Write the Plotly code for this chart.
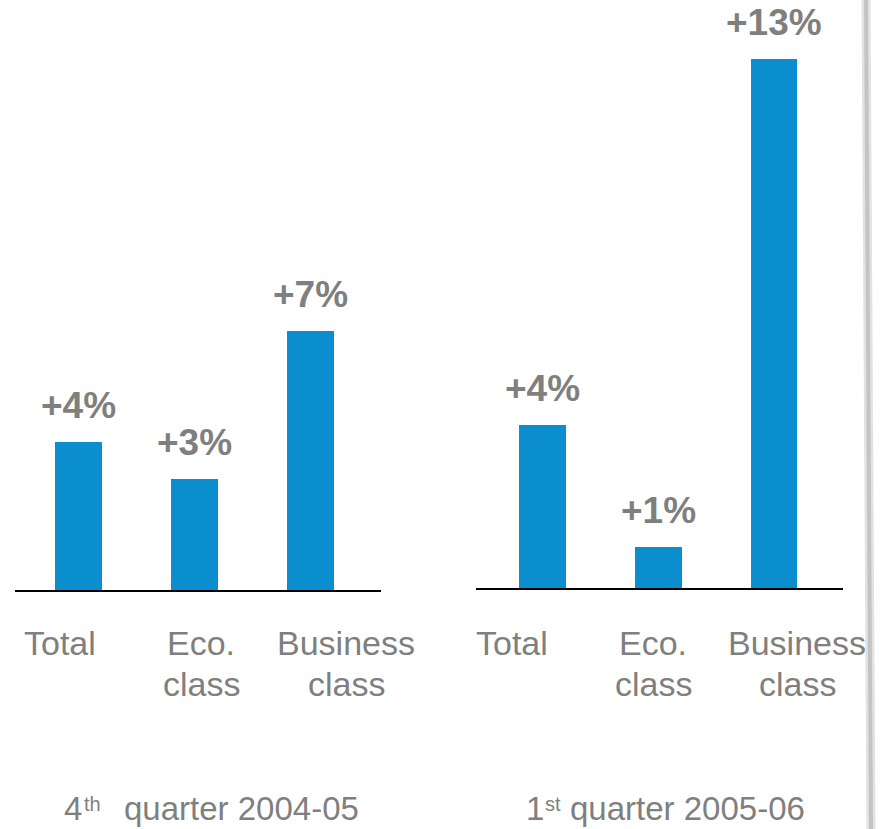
import plotly.graph_objects as go

# Passenger growth by class, two quarters
categories = ["Total", "Eco. class", "Business class"]
tick_lines = [["Total"], ["Eco.", "class"], ["Business", "class"]]
q4_values = [4, 3, 7]
q1_values = [4, 1, 13]
period_titles = [("4", "th", "quarter 2004-05"), ("1", "st", "quarter 2005-06")]

W, H = 882, 829
BAR = "#0A8ECD"
GREY = "#7F7F7F"
FONT = "Arial, Liberation Sans, sans-serif"


def px(x):
    return x / W


def py(y):
    return 1 - y / H


fig = go.Figure()
xs = list(range(len(categories)))

fig.add_trace(go.Bar(x=xs, y=q4_values, xaxis="x", yaxis="y",
                     marker=dict(color=BAR, line=dict(width=0)), width=0.405,
                     hoverinfo="skip", showlegend=False))
fig.add_trace(go.Bar(x=xs, y=q1_values, xaxis="x2", yaxis="y2",
                     marker=dict(color=BAR, line=dict(width=0)), width=0.405,
                     hoverinfo="skip", showlegend=False))

axis_common = dict(showgrid=False, zeroline=False, showticklabels=False, ticks="", fixedrange=True)

fig.update_layout(
    width=W, height=H,
    margin=dict(l=0, r=0, t=0, b=0),
    paper_bgcolor="white", plot_bgcolor="rgba(0,0,0,0)",
    font=dict(family=FONT, color=GREY),
    bargap=0,
    xaxis=dict(domain=[px(15), px(381)], range=[-0.547, 2.608],
               showline=True, linecolor="black", linewidth=2, anchor="y", **axis_common),
    yaxis=dict(domain=[py(590), 1], range=[0, 590 / 37.0], showline=False,
               anchor="x", **axis_common),
    xaxis2=dict(domain=[px(476), px(843)], range=[-0.575, 2.596],
                showline=True, linecolor="black", linewidth=2, anchor="y2", **axis_common),
    yaxis2=dict(domain=[py(588), 1], range=[0, 588 / 40.7], showline=False,
                anchor="x2", **axis_common),
)

annotations = []
# value labels above bars
for xa, ya, vals in (("x", "y", q4_values), ("x2", "y2", q1_values)):
    for i, v in enumerate(vals):
        annotations.append(dict(
            x=i, y=v, xref=xa, yref=ya, text=f"+{v}%", showarrow=False,
            yanchor="bottom", yshift=14,
            font=dict(size=37, color=GREY, family=FONT, weight="bold")))

# category labels under each panel, one annotation per line
label_shifts = {"x": [-18, 7, 36], "x2": [-31, -5, 23]}
line_tops = [622, 663]
for xa in ("x", "x2"):
    for i, lines in enumerate(tick_lines):
        for k, t in enumerate(lines):
            annotations.append(dict(
                x=i, y=py(line_tops[k]), xref=xa, yref="paper", text=t, showarrow=False,
                xshift=label_shifts[xa][i], yanchor="top", align="center",
                font=dict(size=34, color=GREY, family=FONT)))

# period titles: numeral, ordinal suffix, rest of the title
title_x = [(62, 82, 122), (524, 543, 568)]
for (x_num, x_sup, x_rest), (num, suf, rest) in zip(title_x, period_titles):
    annotations.append(dict(
        x=px(x_num), y=py(788), xref="paper", yref="paper", text=num, showarrow=False,
        xanchor="left", yanchor="top", font=dict(size=33, color=GREY, family=FONT)))
    annotations.append(dict(
        x=px(x_sup), y=py(791), xref="paper", yref="paper", text=suf, showarrow=False,
        xanchor="left", yanchor="top", font=dict(size=20, color=GREY, family=FONT)))
    annotations.append(dict(
        x=px(x_rest), y=py(788), xref="paper", yref="paper", text=rest, showarrow=False,
        xanchor="left", yanchor="top", font=dict(size=33, color=GREY, family=FONT)))

fig.update_layout(annotations=annotations)

# soft grey edge on the right side of the slide
fig.add_shape(type="line", xref="paper", yref="paper",
              x0=px(866), y0=1, x1=px(871), y1=0,
              line=dict(color="#E2E2E2", width=9))
fig.add_shape(type="line", xref="paper", yref="paper",
              x0=px(866), y0=1, x1=px(871), y1=0,
              line=dict(color="#C4C4C4", width=4))

fig.write_html("out.html")
